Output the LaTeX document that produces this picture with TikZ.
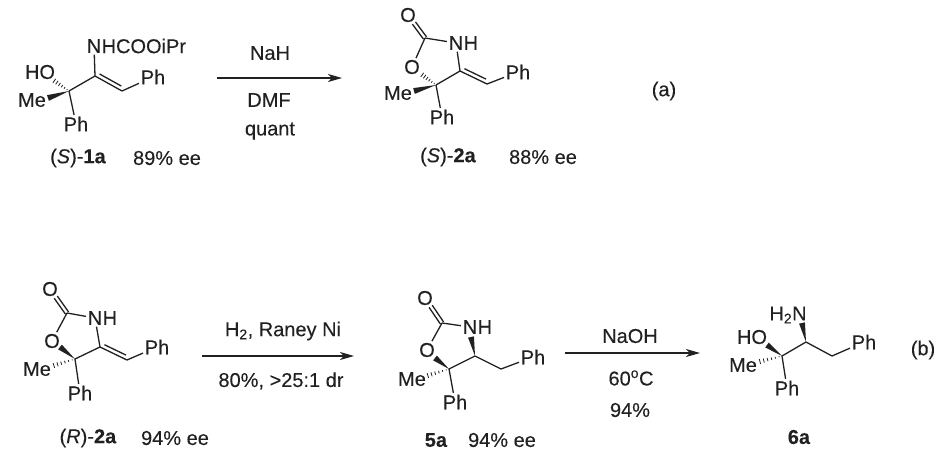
\documentclass[tikz,border=0pt]{standalone}
\usepackage{fontspec}
\setmainfont{Liberation Sans}[FakeBold=0.12]
\usetikzlibrary{calc,arrows.meta}
\tikzset{
  atom/.style={inner sep=1.6pt,text=inkc,font=\fontsize{20}{24}\selectfont},
  txt/.style={inner sep=0pt,text=inkc,font=\fontsize{20}{24}\selectfont},
  bond/.style={draw=inkc,line width=1.3pt},
  rxn/.style={draw=inkc,line width=1.3pt,-{Stealth[length=14pt,width=8pt,inset=4pt]}}
}
\definecolor{inkc}{gray}{0.13}
\newcommand{\wedgeb}[2]{\fill[inkc] (#1) -- ($(#2)!3pt!90:(#1)$) -- ($(#2)!3pt!-90:(#1)$) -- cycle;}
\newcommand{\hashb}[2]{\foreach \t/\w in {.12/.5,.28/.9,.44/1.3,.6/1.7,.76/2.1,.92/2.5}{
  \coordinate (hm) at ($(#1)!\t!(#2)$);
  \draw[inkc,line width=.8pt] ($(hm)!\w pt!90:(#2)$) -- ($(hm)!\w pt!-90:(#2)$);}}
\newcommand{\dbl}[2]{\draw[bond] (#1) -- (#2);
  \coordinate (dp) at ($(#1)!4pt!90:(#2)$);
  \coordinate (dq) at ($(#2)!4pt!-90:(#1)$);
  \draw[bond,shorten <=3pt,shorten >=3pt] (dp) -- (dq);}
\newcommand{\cdbl}[2]{
  \coordinate (dp) at ($(#1)!1.9pt!90:(#2)$);
  \coordinate (dq) at ($(#2)!1.9pt!-90:(#1)$);
  \draw[bond,shorten >=10pt] (dp) -- (dq);
  \coordinate (dp) at ($(#1)!1.9pt!-90:(#2)$);
  \coordinate (dq) at ($(#2)!1.9pt!90:(#1)$);
  \draw[bond,shorten >=10pt] (dp) -- (dq);}
\begin{document}
\begin{tikzpicture}[x=1pt,y=-1pt]
\useasboundingbox (0,0) rectangle (949,474);
\fill[white] (0,0) rectangle (949,474);

% ---------- 1a
\coordinate (a1) at (69,91);
\coordinate (a2) at (95,76);
\coordinate (a3) at (122,91);
\coordinate (a1me) at (48,98);
\coordinate (a1ho) at (53,80);
\node[atom] (aN) at (94,46) {N};
\node[atom,anchor=west,inner sep=0pt,xshift=-1.6pt] (aNr) at (aN.east) {HCOOiPr};
\node[atom] (aHO) at (40,72) {HO};
\node[atom] (aMe) at (32,100) {Me};
\node[atom] (aPh1) at (76,124) {Ph};
\node[atom] (aPh2) at (153,77) {Ph};
\draw[bond] (a1) -- (a2);
\draw[bond] (a2) -- (aN);
\dbl{a2}{a3}
\draw[bond] (a3) -- (aPh2);
\draw[bond] (a1) -- (aPh1);
\wedgeb{a1}{a1me}
\hashb{a1}{a1ho}
\node[txt] (aL) at (78,158) {(\textit{S})-\textbf{1a}};
\node[txt] (aE) at (167,158) {89\% ee};

% ---------- arrow a
\coordinate (r1s) at (217,78);
\coordinate (r1e) at (342,78);
\draw[rxn] (r1s) -- (r1e);
\node[txt] (t1) at (270,53) {NaH};
\node[txt] (t2) at (269,100) {DMF};
\node[txt] (t3) at (270,131) {quant};

% ---------- 2a top
\coordinate (bC) at (425,38);
\coordinate (bC5) at (436,85);
\coordinate (bC4) at (460,71);
\coordinate (bCH) at (487,84);
\coordinate (bme) at (414,91);
\coordinate (bho) at (421,74);
\node[atom] (bO) at (408,15) {O};
\node[atom] (bN) at (456,43) {N};
\node[atom,anchor=west,inner sep=0pt,xshift=-1.6pt] (bH) at (bN.east) {H};
\node[atom] (bOr) at (412,67) {O};
\node[atom] (bMe) at (398,93) {Me};
\node[atom] (bPh1) at (442,117) {Ph};
\node[atom] (bPh2) at (518,72) {Ph};
\cdbl{bC}{bO}
\draw[bond] (bC) -- (bN);
\draw[bond] (bC) -- (bOr);
\draw[bond] (bN) -- (bC4);
\draw[bond] (bC5) -- (bC4);
\dbl{bC4}{bCH}
\draw[bond] (bCH) -- (bPh2);
\draw[bond] (bC5) -- (bPh1);
\wedgeb{bC5}{bme}
\hashb{bC5}{bho}
\node[txt] (bL) at (448,157) {(\textit{S})-\textbf{2a}};
\node[txt] (bE) at (543,157) {88\% ee};
\node[txt] (tA) at (664,91) {(a)};

% ---------- 2a bottom
\coordinate (cC) at (67,313);
\coordinate (cC5) at (75,359);
\coordinate (cC4) at (100,347);
\coordinate (cCH) at (127,360);
\coordinate (cw) at (60,347);
\coordinate (ch) at (52,366);
\node[atom] (cO) at (50,289) {O};
\node[atom] (cN) at (95,318) {N};
\node[atom,anchor=west,inner sep=0pt,xshift=-1.6pt] (cH) at (cN.east) {H};
\node[atom] (cOr) at (52,341) {O};
\node[atom] (cMe) at (37,369) {Me};
\node[atom] (cPh1) at (80,393) {Ph};
\node[atom] (cPh2) at (157,347) {Ph};
\cdbl{cC}{cO}
\draw[bond] (cC) -- (cN);
\draw[bond] (cC) -- (cOr);
\draw[bond] (cN) -- (cC4);
\draw[bond] (cC5) -- (cC4);
\dbl{cC4}{cCH}
\draw[bond] (cCH) -- (cPh2);
\draw[bond] (cC5) -- (cPh1);
\wedgeb{cC5}{cw}
\hashb{cC5}{ch}
\node[txt] (cL) at (88,438) {(\textit{R})-\textbf{2a}};
\node[txt] (cE) at (175,438) {94\% ee};

% ---------- arrow b1
\coordinate (r2s) at (202,356);
\coordinate (r2e) at (354,356);
\draw[rxn] (r2s) -- (r2e);
\node[txt] (t4) at (283,331) {H\textsubscript{2}, Raney Ni};
\node[txt] (t5) at (281,381) {80\%, >25:1 dr};

% ---------- 5a
\coordinate (dC) at (442,323);
\coordinate (dC5) at (449,369);
\coordinate (dC4) at (475,356);
\coordinate (dCH) at (501,369);
\coordinate (dw) at (435,358);
\coordinate (dh) at (426,376);
\coordinate (dn) at (471,337);
\node[atom] (dO) at (425,298) {O};
\node[atom] (dN) at (470,327) {N};
\node[atom,anchor=west,inner sep=0pt,xshift=-1.6pt] (dH) at (dN.east) {H};
\node[atom] (dOr) at (427,350) {O};
\node[atom] (dMe) at (412,379) {Me};
\node[atom] (dPh1) at (455,402) {Ph};
\node[atom] (dPh2) at (533,357) {Ph};
\cdbl{dC}{dO}
\draw[bond] (dC) -- (dN);
\draw[bond] (dC) -- (dOr);
\draw[bond] (dC5) -- (dC4);
\draw[bond] (dC4) -- (dCH);
\draw[bond] (dCH) -- (dPh2);
\draw[bond] (dC5) -- (dPh1);
\wedgeb{dC5}{dw}
\hashb{dC5}{dh}
\wedgeb{dC4}{dn}
\node[txt] (dL) at (436,440) {\textbf{5a}};
\node[txt] (dE) at (502,440) {94\% ee};

% ---------- arrow b2
\coordinate (r3s) at (565,353);
\coordinate (r3e) at (700,353);
\draw[rxn] (r3s) -- (r3e);
\node[txt] (t6) at (630,336) {NaOH};
\node[txt] (t7) at (631,378) {60\textsuperscript{o}C};
\node[txt] (t8) at (630,410) {94\%};

% ---------- 6a
\coordinate (eC1) at (782,356);
\coordinate (eC2) at (806,342);
\coordinate (eCH) at (832,356);
\coordinate (ew) at (767,345);
\coordinate (eh) at (758,362);
\coordinate (en) at (802,323);
\node[txt] (eN) at (788,315) {H\textsubscript{2}N};
\node[atom] (eHO) at (752,337) {HO};
\node[atom] (eMe) at (743,365) {Me};
\node[atom] (ePh1) at (787,388) {Ph};
\node[atom] (ePh2) at (864,342) {Ph};
\draw[bond] (eC1) -- (eC2);
\draw[bond] (eC2) -- (eCH);
\draw[bond] (eCH) -- (ePh2);
\draw[bond] (eC1) -- (ePh1);
\wedgeb{eC1}{ew}
\hashb{eC1}{eh}
\wedgeb{eC2}{en}
\node[txt] (eL) at (799,437) {\textbf{6a}};
\node[txt] (tB) at (923,350) {(b)};
\end{tikzpicture}
\end{document}
